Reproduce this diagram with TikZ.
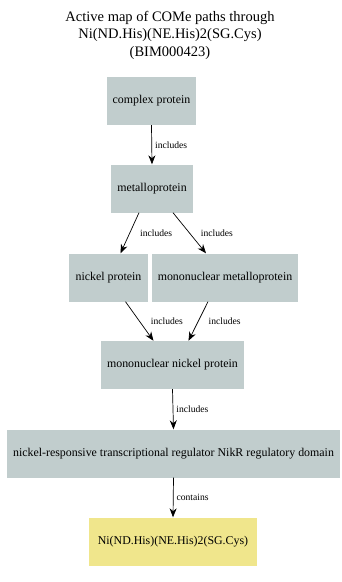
\documentclass[tikz,border=0pt]{standalone}
\usepackage{fontspec}
\setmainfont{Liberation Serif}
\usetikzlibrary{arrows.meta}

\definecolor{termgray}{RGB}{193,205,205}
\definecolor{khaki}{RGB}{240,230,140}
\tikzset{
  term/.style={draw=none, fill=termgray, minimum height=48pt, inner sep=2pt, font=\fontsize{11.9}{13}\selectfont},
  goal/.style={term, fill=khaki},
  rel/.style={-{Stealth[length=9pt,width=7pt]}, line width=0.7pt},
  lbl/.style={font=\fontsize{9.6}{11}\selectfont, inner sep=1pt}
}

\begin{document}
\begin{tikzpicture}[x=1pt, y=-1pt]
  \useasboundingbox (0,0) rectangle (342,582);

  % heading
  \node[align=center, font=\fontsize{14.5}{17.5}\selectfont] (title) at (170,35)
    {Active map of COMe paths through\\Ni(ND.His)(NE.His)2(SG.Cys)\\(BIM000423)};

  % terms, top to bottom
  \node[term, minimum width=89pt]  (cplx)  at (151.5,101) {complex protein};
  \node[term, minimum width=82pt]  (metal) at (152,188.5)  {metalloprotein};
  \node[term, minimum width=79pt]  (nick)  at (108.5,277.5) {nickel protein};
  \node[term, minimum width=146pt] (mmet)  at (225,277.5) {mononuclear metalloprotein};
  \node[term, minimum width=143pt] (mnick) at (172.5,365) {mononuclear nickel protein};
  \node[term, minimum width=333pt] (nikr)  at (173.5,453.5)
    {nickel-responsive transcriptional regulator NikR regulatory domain};
  \node[goal, minimum width=168pt] (site)  at (173,541.5) {Ni(ND.His)(NE.His)2(SG.Cys)};

  % links
  \draw[rel] (cplx.south) -- (metal.north) node[lbl, midway, right=2pt] (l1) {includes};
  \draw[rel] ([xshift=-13pt]metal.south) -- ([xshift=12pt]nick.north)
    node[lbl, midway, right=9pt] (l2) {includes};
  \draw[rel] ([xshift=21pt]metal.south) -- ([xshift=-19pt]mmet.north)
    node[lbl, midway, right=10pt] (l3) {includes};
  \draw[rel] ([xshift=17pt]nick.south) -- ([xshift=-19pt]mnick.north)
    node[lbl, midway, right=10pt] (l4) {includes};
  \draw[rel] ([xshift=-17pt]mmet.south) -- ([xshift=16pt]mnick.north)
    node[lbl, midway, right=9pt] (l5) {includes};
  \draw[rel] (mnick.south) -- (nikr.north) node[lbl, midway, right=2pt] (l6) {includes};
  \draw[rel] (nikr.south) -- (site.north) node[lbl, midway, right=2pt] (l7) {contains};
\end{tikzpicture}
\end{document}
